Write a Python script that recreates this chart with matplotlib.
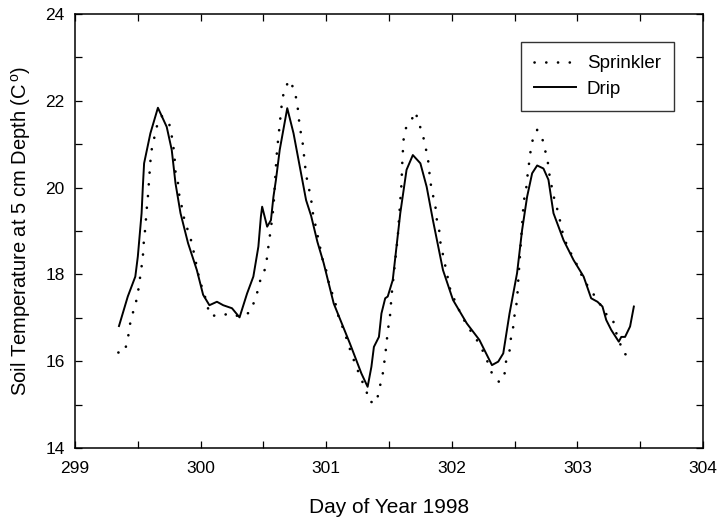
import numpy as np
import matplotlib
matplotlib.use("Agg")
import matplotlib.pyplot as plt
from matplotlib import font_manager
from matplotlib.ticker import MultipleLocator

# ======== data ========#
# Drip irrigation, soil temperature at 5 cm depth
drip_day = [299.35, 299.42, 299.48, 299.50, 299.53, 299.54, 299.55, 299.60, 299.66, 299.73,
            299.77, 299.80, 299.84, 299.90, 299.97, 300.02, 300.07, 300.13, 300.18, 300.25,
            300.31, 300.37, 300.42, 300.46, 300.48, 300.49, 300.53, 300.56, 300.58, 300.60,
            300.63, 300.69, 300.74, 300.79, 300.84, 300.88, 300.93, 300.98, 301.06, 301.19,
            301.28, 301.33, 301.36, 301.38, 301.42, 301.44, 301.47, 301.49, 301.53, 301.56,
            301.59, 301.64, 301.69, 301.75, 301.80, 301.85, 301.93, 302.01, 302.12, 302.22,
            302.32, 302.37, 302.41, 302.46, 302.52, 302.56, 302.60, 302.64, 302.68, 302.73,
            302.77, 302.81, 302.89, 302.97, 303.05, 303.11, 303.16, 303.20, 303.23, 303.27,
            303.33, 303.35, 303.38, 303.42, 303.45]
drip_temp = [16.81, 17.49, 17.95, 18.41, 19.41, 20.02, 20.56, 21.25, 21.84, 21.40,
             20.87, 20.10, 19.41, 18.72, 18.10, 17.53, 17.29, 17.37, 17.29, 17.22,
             17.01, 17.56, 17.95, 18.64, 19.33, 19.56, 19.10, 19.25, 19.79, 20.18,
             20.87, 21.83, 21.25, 20.48, 19.71, 19.35, 18.75, 18.26, 17.33, 16.40,
             15.72, 15.41, 15.87, 16.33, 16.56, 17.10, 17.45, 17.49, 17.87, 18.64,
             19.41, 20.41, 20.75, 20.56, 20.02, 19.25, 18.10, 17.41, 16.87, 16.49,
             15.91, 15.99, 16.18, 17.10, 18.03, 19.02, 19.79, 20.33, 20.51, 20.44,
             20.18, 19.41, 18.79, 18.33, 17.95, 17.45, 17.37, 17.26, 16.95, 16.72,
             16.45, 16.56, 16.56, 16.80, 17.26]

# Sprinkler irrigation
spr_day = [299.345, 299.39, 299.42, 299.43, 299.45, 299.48, 299.50, 299.52, 299.54, 299.545,
           299.56, 299.57, 299.58, 299.59, 299.60, 299.61, 299.63, 299.65, 299.69, 299.75,
           299.77, 299.79, 299.80, 299.82, 299.83, 299.85, 299.87, 299.90, 299.93, 299.95,
           299.97, 299.99, 300.02, 300.05, 300.07, 300.15, 300.23, 300.31, 300.39, 300.43,
           300.46, 300.48, 300.52, 300.53, 300.55, 300.57, 300.58, 300.59, 300.60, 300.61,
           300.62, 300.63, 300.64, 300.65, 300.67, 300.71, 300.75, 300.77, 300.78, 300.79,
           300.81, 300.82, 300.83, 300.84, 300.86, 300.88, 300.89, 300.91, 300.93, 300.95,
           300.97, 301.00, 301.02, 301.05, 301.08, 301.10, 301.14, 301.17, 301.20, 301.24,
           301.28, 301.32, 301.34, 301.40, 301.42, 301.45, 301.47, 301.48, 301.49, 301.51,
           301.52, 301.53, 301.54, 301.55, 301.56, 301.57, 301.58, 301.59, 301.60, 301.605,
           301.61, 301.615, 301.63, 301.67, 301.71, 301.74, 301.77, 301.79, 301.81, 301.82,
           301.83, 301.85, 301.87, 301.88, 301.90, 301.91, 301.93, 301.95, 301.97, 301.99,
           302.03, 302.07, 302.12, 302.22, 302.27, 302.32, 302.38, 302.42, 302.43, 302.46,
           302.47, 302.49, 302.50, 302.52, 302.53, 302.54, 302.55, 302.56, 302.57, 302.58,
           302.60, 302.605, 302.62, 302.63, 302.65, 302.68, 302.73, 302.75, 302.77, 302.78,
           302.80, 302.82, 302.85, 302.87, 302.89, 302.93, 302.98, 303.02, 303.07, 303.17,
           303.22, 303.28, 303.30, 303.37, 303.42]
spr_temp = [16.20, 16.20, 16.47, 16.74, 17.02, 17.29, 17.56, 17.98, 18.39, 18.67,
            19.08, 19.48, 19.78, 20.20, 20.60, 20.87, 21.14, 21.40, 21.65, 21.47,
            21.19, 20.80, 20.37, 20.10, 19.83, 19.56, 19.27, 19.00, 18.73, 18.45,
            18.16, 17.89, 17.62, 17.35, 17.06, 17.04, 17.10, 17.03, 17.12, 17.39,
            17.67, 17.93, 18.16, 18.43, 18.86, 19.29, 19.56, 20.00, 20.50, 20.91,
            21.17, 21.47, 21.75, 22.02, 22.29, 22.48, 22.21, 21.93, 21.66, 21.38,
            21.10, 20.83, 20.56, 20.29, 20.02, 19.74, 19.47, 19.20, 18.92, 18.64,
            18.36, 18.09, 17.82, 17.54, 17.27, 17.00, 16.72, 16.45, 16.18, 15.87,
            15.58, 15.32, 15.07, 15.04, 15.32, 15.70, 16.13, 16.41, 16.68, 17.09,
            17.50, 17.77, 18.05, 18.33, 18.60, 18.87, 19.30, 19.70, 20.10, 20.52,
            20.81, 21.08, 21.35, 21.50, 21.75, 21.47, 21.21, 20.94, 20.68, 20.41,
            20.12, 19.83, 19.56, 19.28, 19.01, 18.73, 18.45, 18.18, 17.89, 17.62,
            17.36, 17.10, 16.83, 16.40, 16.10, 15.72, 15.51, 15.70, 15.97, 16.24,
            16.51, 16.80, 17.06, 17.40, 17.89, 18.30, 18.72, 19.14, 19.55, 19.81,
            20.10, 20.37, 20.64, 20.91, 21.17, 21.33, 21.06, 20.77, 20.51, 20.24,
            19.97, 19.69, 19.41, 19.12, 18.87, 18.58, 18.33, 18.06, 17.79, 17.37,
            17.10, 17.01, 16.73, 16.17, 16.13]

x_ticks = [299, 300, 301, 302, 303, 304]
y_ticks = [14, 16, 18, 20, 22, 24]

# ======== fonts ========#
def have_font(name):
	try:
		font_manager.findfont(name, fallback_to_default=False)
		return True
	except Exception:
		return False

label_font = 'Liberation Sans' if have_font('Liberation Sans') else 'DejaVu Sans'
plt.rcParams['font.family'] = label_font
plt.rcParams['mathtext.fontset'] = 'custom'
plt.rcParams['mathtext.rm'] = label_font

# ======== plot ========#
fig = plt.figure(figsize=(7.18, 5.19), dpi=100)
ax = fig.add_axes([0.1045, 0.1368, 0.8745, 0.8362])

ax.plot(spr_day, spr_temp, color='black', lw=1.9, linestyle=(0, (0.05, 4.4)),
	dash_capstyle='round', label='Sprinkler')
ax.plot(drip_day, drip_temp, color='black', lw=1.4, label='Drip')

ax.set_xlim(299, 304)
ax.set_ylim(14, 24)
ax.set_xticks(x_ticks)
ax.set_yticks(y_ticks)
ax.xaxis.set_minor_locator(MultipleLocator(0.5))
ax.yaxis.set_minor_locator(MultipleLocator(1))
ax.tick_params(which='both', direction='in', top=True, right=True, length=5, width=0.9)
ax.tick_params(axis='x', which='major', pad=9.5, labelsize=12.5)
ax.tick_params(axis='y', which='major', pad=7.5, labelsize=12.5)
for sp in ax.spines.values():
	sp.set_linewidth(1.1)

ax.set_xlabel('Day of Year 1998', fontsize=15, labelpad=16)
ax.set_ylabel(r'Soil Temperature at 5 cm Depth (C$^{\,\rm o}$)', fontsize=14.5, labelpad=9)

leg = ax.legend(loc='upper right', bbox_to_anchor=(0.954, 0.935), fontsize=13.5,
	frameon=True, fancybox=False, edgecolor='black', handlelength=2.2,
	handletextpad=0.6, borderpad=0.7, labelspacing=0.45, borderaxespad=0)
leg.get_frame().set_linewidth(1.0)

fig.savefig('out.png', dpi=100)
